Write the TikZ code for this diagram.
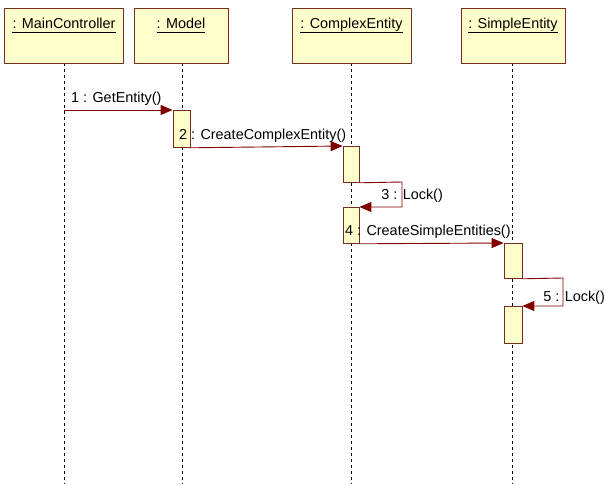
\documentclass[tikz,border=0pt]{standalone}
\usepackage{fontspec}
\setmainfont{Liberation Sans}
\usetikzlibrary{arrows.meta}
\definecolor{boxfill}{RGB}{255,255,204}
\definecolor{boxline}{RGB}{115,45,35}
\definecolor{msg}{RGB}{128,0,0}
\tikzset{
  objbox/.style={draw=boxline, fill=boxfill, line width=0.9pt},
  actbox/.style={draw=boxline, fill=boxfill, line width=0.8pt},
  lifeline/.style={draw=black, line width=0.9pt, dash pattern=on 3pt off 3pt},
  msgline/.style={draw=msg, line width=0.9pt, -{Triangle[length=12pt,width=10pt]}},
  lbl/.style={font=\fontsize{14.4}{16}\selectfont, inner sep=0pt, text=black},
  hdr/.style={font=\fontsize{14.4}{16}\selectfont, inner sep=0pt, text=black, anchor=base},
  uline/.style={draw=black, line width=0.7pt}
}
\begin{document}
\begin{tikzpicture}[x=1pt,y=-1pt]
\useasboundingbox (0,0) rectangle (605,484);
% lifelines
\foreach \n/\x in {mc/64, mo/182, ce/351, se/512} {
  \coordinate (\n top) at (\x,63);
  \coordinate (\n bot) at (\x,484);
  \draw[lifeline] (\n top) -- (\n bot);
}
% header boxes
\draw[objbox] (4,8) rectangle (123,63);
\node[hdr] (hmc) at (64,29) {: MainController};
\draw[objbox] (134,8) rectangle (228,63);
\node[hdr] (hmo) at (181,29) {: Model};
\draw[objbox] (292,8) rectangle (411,63);
\node[hdr] (hce) at (351.5,29) {: ComplexEntity};
\draw[objbox] (461,8) rectangle (565,63);
\node[hdr] (hse) at (513,29) {: SimpleEntity};
\foreach \h in {hmc,hmo,hce,hse}
  \draw[uline] ([yshift=-3pt]\h.base west) -- ([yshift=-3pt]\h.base east);
% activations
\node[actbox, minimum width=17pt, minimum height=37pt, inner sep=0pt, anchor=north] (a1) at (181.5,110) {};
\node[actbox, minimum width=16pt, minimum height=36pt, inner sep=0pt, anchor=north] (a2) at (351,146) {};
\node[actbox, minimum width=16pt, minimum height=36pt, inner sep=0pt, anchor=north] (a3) at (351,207) {};
\node[actbox, minimum width=18pt, minimum height=35pt, inner sep=0pt, anchor=north] (a4) at (513,243) {};
\node[actbox, minimum width=18pt, minimum height=37pt, inner sep=0pt, anchor=north] (a5) at (513,306) {};
% messages
\coordinate (m1s) at (64,110);
\draw[msgline] (m1s) -- (a1.north west);
\node[lbl, anchor=base west] (l1) at (71,103) {1 : GetEntity()};
\draw[msgline] (a1.south east) -- (a2.north west);
\node[lbl, anchor=base west] (l2) at (179,140) {2 : CreateComplexEntity()};
\coordinate (s3a) at (402,182);
\coordinate (s3b) at (402,207);
\draw[msgline] (a2.south east) -- (s3a) -- (s3b) -- (a3.north east);
\node[lbl, anchor=base east] (l3) at (443,199) {3 : Lock()};
\draw[msgline] (a3.south east) -- (a4.north west);
\node[lbl, anchor=base west] (l4) at (345,235) {4 : CreateSimpleEntities()};
\coordinate (s5a) at (563,278);
\coordinate (s5b) at (563,306);
\draw[msgline] (a4.south east) -- (s5a) -- (s5b) -- (a5.north east);
\node[lbl, anchor=base east] (l5) at (605,301) {5 : Lock()};
\end{tikzpicture}
\end{document}
